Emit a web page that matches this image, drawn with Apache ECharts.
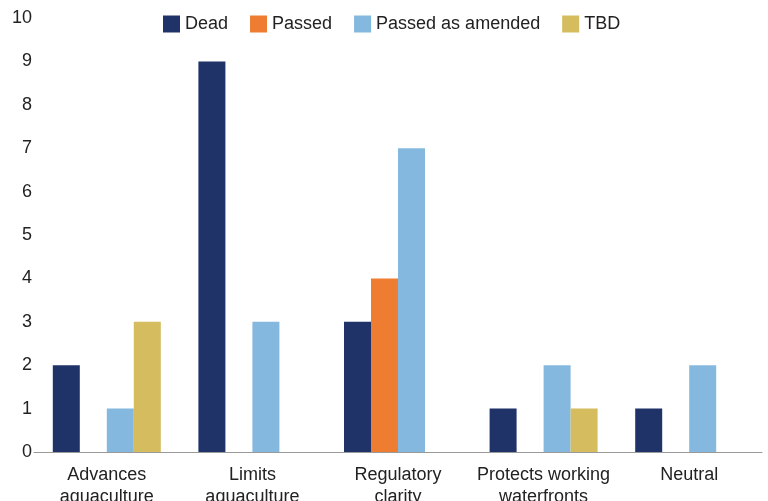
<!DOCTYPE html>
<html>
<head>
<meta charset="utf-8">
<script src="https://cdn.jsdelivr.net/npm/echarts@6/dist/echarts.min.js"></script>
<style>
  html, body { margin: 0; padding: 0; background: #fff; }
  #chart { width: 768px; height: 501px; }
</style>
</head>
<body>
<div id="chart"></div>
<script>
const categories = ["Advances\naquaculture", "Limits\naquaculture", "Regulatory\nclarity", "Protects working\nwaterfronts", "Neutral"];
const dead = [2, 9, 3, 1, 1];
const passed = [0, 0, 4, 0, 0];
const passedAmended = [1, 3, 7, 2, 2];
const tbd = [3, 0, 0, 1, 0];
const seriesNames = ["Dead", "Passed", "Passed as amended", "TBD"];
const colors = ["#1f3369", "#ee7d31", "#84b8df", "#d4bc5f"];

const font = "Liberation Sans";
const textColor = "#222";

const chart = echarts.init(document.getElementById("chart"));

function bar(name, data, color) {
  return {
    name: name,
    type: "bar",
    data: data,
    barWidth: 27,
    barGap: "0%",
    itemStyle: { color: color },
    emphasis: { disabled: true }
  };
}

chart.setOption({
  animation: false,
  color: colors,
  textStyle: { fontFamily: font },
  legend: {
    top: 15,
    left: 163,
    padding: 0,
    itemWidth: 17,
    itemHeight: 17,
    itemGap: 22,
    icon: "rect",
    data: seriesNames,
    textStyle: { fontSize: 18, color: textColor, fontFamily: font }
  },
  grid: { left: 34, right: 6, top: 18, bottom: 49, containLabel: false, outerBoundsMode: "none" },
  xAxis: {
    type: "category",
    data: categories,
    axisLine: { show: true, lineStyle: { color: "#999", width: 1 } },
    axisTick: { show: false },
    axisLabel: {
      interval: 0,
      margin: 12,
      fontSize: 18,
      lineHeight: 22,
      color: textColor,
      fontFamily: font
    }
  },
  yAxis: {
    type: "value",
    min: 0,
    max: 10,
    interval: 1,
    splitLine: { show: false },
    axisLine: { show: false },
    axisTick: { show: false },
    axisLabel: { margin: 2, fontSize: 18, color: textColor, fontFamily: font }
  },
  series: [
    bar(seriesNames[0], dead, colors[0]),
    bar(seriesNames[1], passed, colors[1]),
    bar(seriesNames[2], passedAmended, colors[2]),
    bar(seriesNames[3], tbd, colors[3])
  ]
});
</script>
</body>
</html>
